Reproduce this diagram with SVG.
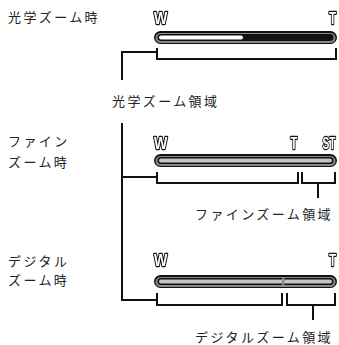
<svg xmlns="http://www.w3.org/2000/svg" width="339" height="345" viewBox="0 0 339 345">
<style>
.jp{font-family:"Noto Sans CJK JP","Noto Sans",sans-serif;font-size:13px;letter-spacing:2.4px;fill:#222}
.lab{font-family:"Liberation Sans",Arial,sans-serif;font-weight:bold;font-size:16px;fill:#fff;stroke:#111;stroke-width:2.3px;stroke-linejoin:round;paint-order:stroke}
.ln{fill:none;stroke:#111;stroke-width:2}
.o{fill:#111}
.g{fill:#8a8a8a}
</style>
<defs>
<g id="barbase">
<rect class="o" x="154" y="0" width="183" height="13" rx="6.5"/>
<rect class="g" x="155.5" y="2" width="180" height="10" rx="5"/>
<rect class="o" x="157.5" y="3" width="176" height="7" rx="3.5"/>
</g>
<filter id="flat" x="-0.2" y="-0.5" width="1.4" height="2"><feOffset dx="0" dy="0"/></filter>
</defs>
<rect width="339" height="345" fill="#fff"/>
<g id="mode-optical">
<text class="jp" x="8" y="22">光学ズーム時</text>
</g>
<g id="mode-fine">
<text class="jp" x="8" y="146">ファイン</text>
<text class="jp" x="8" y="167">ズーム時</text>
</g>
<g id="mode-digital">
<text class="jp" x="8" y="266">デジタル</text>
<text class="jp" x="8" y="285">ズーム時</text>
</g>
<g id="bar-optical">
<g filter="url(#flat)">
<text class="lab" transform="translate(154 24) scale(0.88 1)">W</text>
<text class="lab" transform="translate(329 24) scale(0.74 1)">T</text>
</g>
<use href="#barbase" y="31"/>
<rect x="159" y="35.5" width="84" height="4" rx="2" fill="#fff"/>
</g>
<g id="bar-fine">
<g filter="url(#flat)">
<text class="lab" transform="translate(154 149) scale(0.88 1)">W</text>
<text class="lab" transform="translate(290.5 149) scale(0.7 1)">T</text>
<text class="lab" transform="translate(322.5 149) scale(0.64 1)">ST</text>
</g>
<use href="#barbase" y="154"/>
<rect x="159" y="158.5" width="173" height="4" rx="2" fill="#c4c4c4"/>
</g>
<g id="bar-digital">
<g filter="url(#flat)">
<text class="lab" transform="translate(154 266) scale(0.88 1)">W</text>
<text class="lab" transform="translate(329 266) scale(0.74 1)">T</text>
</g>
<use href="#barbase" y="275"/>
<rect x="159" y="279.5" width="173" height="4" rx="2" fill="#c4c4c4"/>
<rect x="282" y="278" width="2.5" height="7" fill="#8a8a8a"/>
</g>
<g id="region-optical">
<path class="ln" d="M157 48 V59 H336 V48"/>
<text class="jp" x="112" y="106">光学ズーム領域</text>
</g>
<g id="region-fine">
<path class="ln" d="M157 172 V183 H298 V172"/>
<path class="ln" d="M302 172 V183 H335 V172"/>
<text class="jp" x="195" y="219">ファインズーム領域</text>
</g>
<g id="region-digital">
<path class="ln" d="M157 293 V305 H282 V293"/>
<path class="ln" d="M287 293 V305 H335 V293"/>
<text class="jp" x="195" y="342">デジタルズーム領域</text>
</g>
<g id="connectors">
<path class="ln" d="M157 52 H122 V80"/>
<path class="ln" d="M122 123 V300 H157"/>
<path class="ln" d="M122 177 H157"/>
<path class="ln" d="M318 183 V198"/>
<path class="ln" d="M313 305 V320"/>
</g>
</svg>
